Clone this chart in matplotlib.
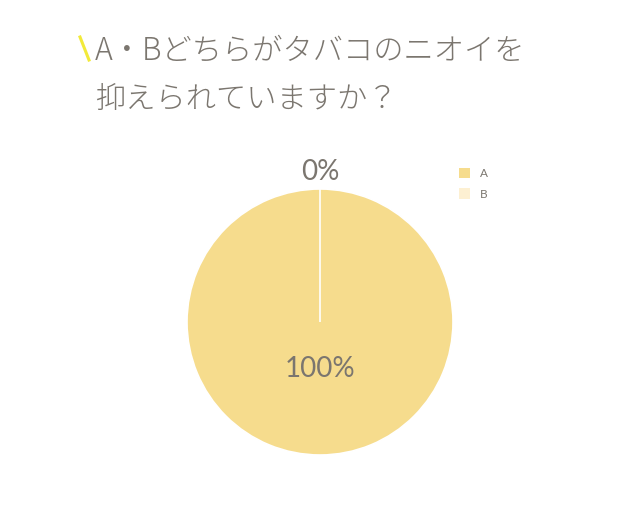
import matplotlib.pyplot as plt
from matplotlib.lines import Line2D
from matplotlib.patches import Patch
import numpy as np

categories = ['A', 'B']
values = [100, 0]
colors = ['#F6DC8D', '#FDF0D2']
title_lines = ['A・Bどちらがタバコのニオイを', '抑えられていますか？']

gray = '#7b766f'
W, H = 640, 531

fig = plt.figure(figsize=(W / 100, H / 100), dpi=100)
fig.patch.set_facecolor('white')

# pie axes placed in pixel terms: center (320, 322), radius 133
cx, cy, r = 320, 322, 133
ax = fig.add_axes([(cx - r) / W, (H - cy - r) / H, 2 * r / W, 2 * r / H])
wedges, texts, autotexts = ax.pie(values, colors=colors, startangle=90, counterclock=False,
                                  autopct='%d%%', pctdistance=0.35,
                                  wedgeprops=dict(edgecolor='white', linewidth=1.2),
                                  textprops=dict(color=gray, fontsize=20, family='Lato'))
ax.set_xlim(-1, 1)
ax.set_ylim(-1, 1)
ax.set_aspect('equal')
ax.axis('off')

# the empty slice gets its label outside the pie
for w, t, v in zip(wedges, autotexts, values):
    if v == 0:
        ang = np.deg2rad((w.theta1 + w.theta2) / 2)
        t.set_position((1.13 * np.cos(ang), 1.13 * np.sin(ang)))

# legend
handles = [Patch(facecolor=c, edgecolor='none') for c in colors]
fig.legend(handles, categories, loc='upper left', bbox_to_anchor=(448 / W, 1 - 157 / H),
           frameon=False, labelcolor=gray, handlelength=1.0, handleheight=1.0,
           handletextpad=0.8, labelspacing=0.8, prop={'family': 'Lato', 'size': 8.5})

# title
for i, line in enumerate(title_lines):
    fig.text(95 / W, 1 - (50 + i * 50) / H, line, ha='left', va='center', color=gray,
             fontsize=21.8, fontweight='light', family=['Noto Sans CJK JP', 'DejaVu Sans'])
fig.add_artist(Line2D([80 / W, 89 / W], [1 - 37 / H, 1 - 60 / H], color='#f2ea3a', linewidth=2.2))

fig.savefig('out.png', dpi=100, facecolor='white')
